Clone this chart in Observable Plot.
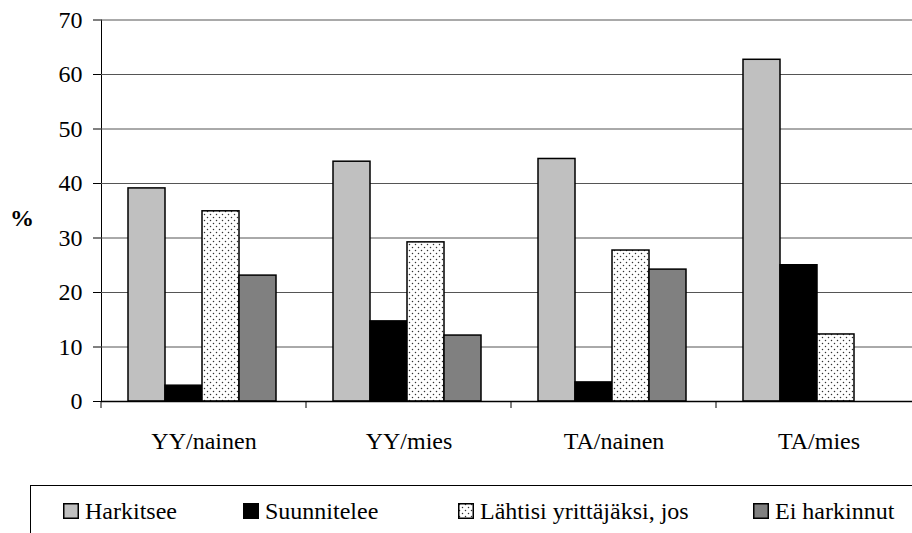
<!DOCTYPE html>
<html>
<head>
<meta charset="utf-8">
<script src="https://cdn.jsdelivr.net/npm/d3@7"></script>
<script src="https://cdn.jsdelivr.net/npm/@observablehq/plot@0.6"></script>
<style>
  html, body { margin: 0; padding: 0; background: #fff; overflow: hidden; }
  #wrap { position: relative; width: 912px; height: 533px; overflow: hidden; font-family: "Liberation Serif", "Times New Roman", serif; color: #000; }
  #chart svg { display: block; }
  #ylab { position: absolute; left: 10px; top: 204px; font-weight: bold; font-size: 24px; line-height: 28px; }
  #legend { position: absolute; left: 30px; top: 485px; width: 900px; height: 60px; border-top: 1.5px solid #000; border-left: 1.5px solid #000; }
  .item { position: absolute; top: 11px; height: 28px; display: flex; align-items: center; font-size: 24px; white-space: nowrap; }
  .item svg { display: block; margin-right: 6px; }
</style>
</head>
<body>
<svg width="0" height="0" style="position:absolute">
  <defs>
    <pattern id="dots" width="6" height="6" patternUnits="userSpaceOnUse">
      <rect width="6" height="6" fill="#fff"></rect>
      <circle cx="1.5" cy="1.5" r="0.75" fill="#333"></circle>
      <circle cx="4.5" cy="4.5" r="0.75" fill="#333"></circle>
    </pattern>
  </defs>
</svg>
<div id="wrap">
  <div id="chart"></div>
  <div id="ylab">%</div>
  <div id="legend"></div>
</div>
<script>
const categories = ["YY/nainen", "YY/mies", "TA/nainen", "TA/mies"];
const series = ["Harkitsee", "Suunnitelee", "Lähtisi yrittäjäksi, jos", "Ei harkinnut"];
const harkitsee = [39.1, 44.0, 44.5, 62.7];
const suunnitelee = [2.9, 14.7, 3.5, 25.0];
const lahtisi = [34.9, 29.2, 27.7, 12.3];
const eiHarkinnut = [23.1, 12.1, 24.2, null];
const yTicks = [0, 10, 20, 30, 40, 50, 60, 70];
const fills = ["#c0c0c0", "#000000", "url(#dots)", "#808080"];

const valuesBySeries = [harkitsee, suunnitelee, lahtisi, eiHarkinnut];
const table = [];
categories.forEach((c, i) => series.forEach((s, j) => {
  const v = valuesBySeries[j][i];
  if (v != null) table.push({category: c, series: s, value: v});
}));

const chart = Plot.plot({
  width: 912,
  height: 480,
  marginLeft: 99,
  marginRight: -10,
  marginTop: 19.5,
  marginBottom: 79,
  style: {fontFamily: "'Liberation Serif', 'Times New Roman', serif", fontSize: "24px", background: "transparent", color: "#000", overflow: "visible"},
  facet: {data: table, x: "category"},
  fx: {domain: categories, padding: 0, axis: "bottom", label: null, tickSize: 0, tickPadding: 30},
  x: {domain: series, paddingInner: 0, paddingOuter: 0.743, align: 0.47, axis: null},
  y: {domain: [0, 70], ticks: yTicks, tickSize: 8, tickPadding: 11, label: null, line: true, tickFormat: d => String(d)},
  color: {domain: series, range: fills},
  marks: [
    Plot.ruleY(yTicks, {stroke: "#555", strokeWidth: 1}),
    Plot.barY(table, {x: "series", y: "value", fill: "series", stroke: "#000", strokeWidth: 1.5}),
    Plot.ruleY([0], {stroke: "#000", strokeWidth: 1.5})
  ]
});
document.getElementById("chart").appendChild(chart);

// category boundary ticks below the baseline, placed with the fx / y scales
const fxScale = chart.scale("fx");
const yScale = chart.scale("y");
const svgSel = d3.select(chart);
categories.forEach(c => {
  const x = fxScale.apply(c);
  svgSel.append("line")
    .attr("x1", x).attr("x2", x)
    .attr("y1", yScale.apply(0)).attr("y2", yScale.apply(0) + 7)
    .attr("stroke", "#000").attr("stroke-width", 1);
});

// legend
const legendLefts = [32, 212, 427, 722];
const legend = document.getElementById("legend");
series.forEach((s, i) => {
  const item = document.createElement("div");
  item.className = "item";
  item.style.left = legendLefts[i] + "px";
  item.innerHTML = `<svg width="16" height="16"><rect x="0.75" y="0.75" width="14.5" height="14.5" fill="${fills[i]}" stroke="#000" stroke-width="1.5"></rect></svg>`;
  const span = document.createElement("span");
  span.textContent = s;
  item.appendChild(span);
  legend.appendChild(item);
});
</script>
</body>
</html>
